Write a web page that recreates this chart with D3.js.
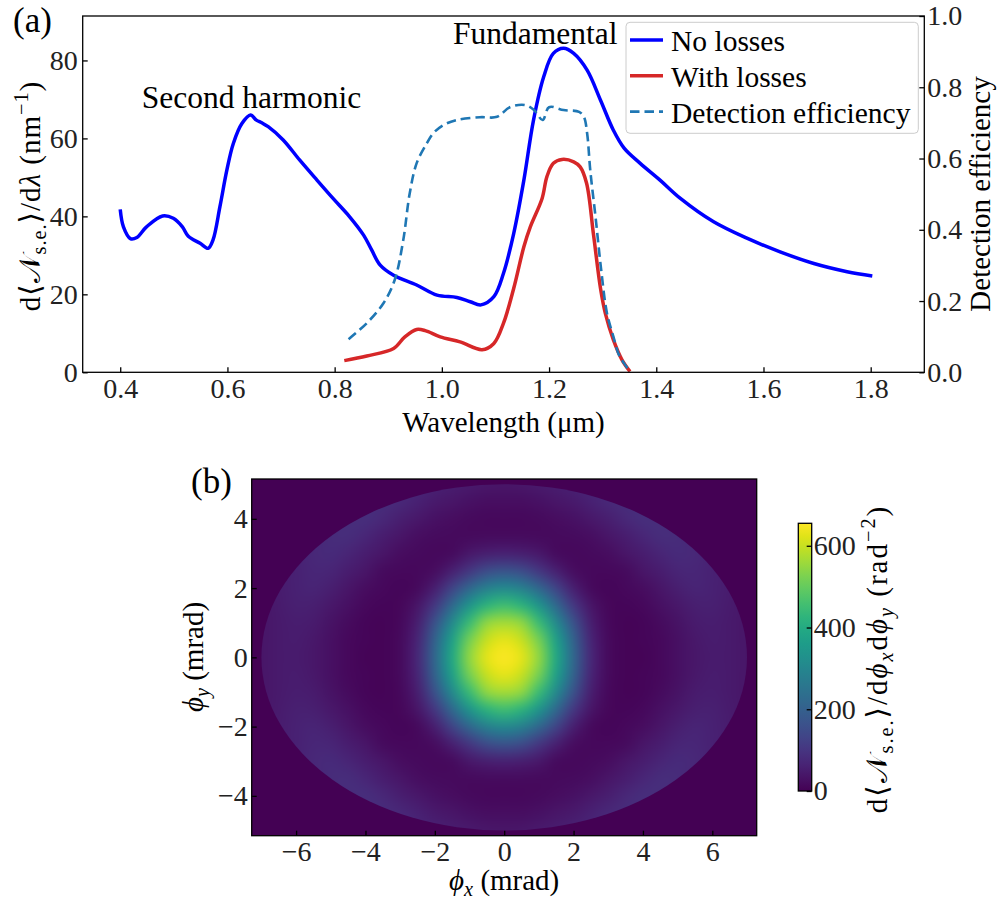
<!DOCTYPE html>
<html><head><meta charset="utf-8">
<script src="https://cdn.jsdelivr.net/npm/d3@7"></script>
<style>
body{margin:0;background:#fff;}
svg text{font-family:"Liberation Serif","Times New Roman","DejaVu Serif",serif;}
</style></head><body>
<svg id="chart" width="1000" height="909"></svg>
<script>
// ---------------- Panel (a) data ----------------
const wavelengthNoLosses = [0.400,0.406,0.419,0.431,0.449,0.479,0.499,0.516,0.527,0.549,0.564,0.573,0.586,0.599,0.611,0.627,0.643,0.654,0.664,0.676,0.704,0.735,0.767,0.797,0.828,0.854,0.869,0.885,0.910,0.953,0.991,1.028,1.053,1.073,1.097,1.115,1.134,1.153,1.171,1.190,1.208,1.227,1.246,1.271,1.296,1.320,1.340,1.370,1.407,1.445,1.507,1.569,1.631,1.694,1.756,1.803];
const noLosses = [41.8,37.3,34.3,34.6,37.3,40.1,39.5,37.3,34.9,33.1,31.8,33.9,42.5,51.9,58.7,63.8,66.0,64.7,64.0,63.0,59.6,54.4,49.3,44.6,39.9,35.2,31.4,27.5,24.9,22.4,19.8,19.2,18.1,17.3,19.4,25.4,35.6,49.3,64.7,75.8,81.8,83.1,81.8,77.5,69.8,62.1,57.5,53.6,49.3,44.6,38.6,34.4,30.9,27.9,25.8,24.7];

const wavelengthWithLosses = [0.818,0.860,0.910,0.931,0.953,0.969,0.997,1.034,1.075,1.097,1.115,1.134,1.153,1.165,1.187,1.196,1.208,1.224,1.246,1.258,1.270,1.283,1.296,1.305,1.320,1.336,1.351];
const withLosses = [3.0,4.2,6.1,9.1,11.0,10.7,9.1,7.8,5.8,7.4,12.6,21.5,32.2,37.3,44.6,50.2,53.6,54.6,54.0,52.7,48.5,35.2,21.5,15.1,8.3,3.2,0.2];

const wavelengthDetection = [0.826,0.860,0.891,0.912,0.928,0.940,0.953,0.972,0.984,1.003,1.028,1.071,1.103,1.127,1.155,1.172,1.188,1.200,1.227,1.256,1.265,1.271,1.277,1.287,1.297,1.308,1.320,1.330,1.340,1.350];
const detectionEfficiency = [0.093,0.138,0.194,0.259,0.371,0.502,0.587,0.643,0.671,0.694,0.708,0.716,0.717,0.744,0.750,0.736,0.708,0.744,0.736,0.731,0.717,0.671,0.565,0.432,0.290,0.166,0.100,0.050,0.025,0.004];

const xTicksA = [0.4,0.6,0.8,1.0,1.2,1.4,1.6,1.8];
const yTicksA = [0,20,40,60,80];
const yTicksRight = [0,0.2,0.4,0.6,0.8,1.0];
const legendLabels = ["No losses","With losses","Detection efficiency"];

// ---------------- Panel (b) data ----------------
// One quadrant read from the (symmetric) map: rows phi_y = 0..5, cols phi_x = 0..7 (mrad)
const quadPhiX = [0,0.5,1,1.5,2,2.5,3,3.5,4,4.5,5,5.5,6,6.5,7];
const quadPhiY = [0,0.5,1,1.5,2,2.5,3,3.5,4,4.5,5];
const heatQuadrant = [
  [652,627,547,392,217,72,17,6,7,14,26,39,48,44,36],
  [630,601,519,370,204,68,16,6,8,15,27,41,49,44,37],
  [568,546,446,310,165,56,14,7,10,19,33,47,53,46,37],
  [453,424,342,221,105,37,12,9,14,27,41,55,57,48,38],
  [308,284,215,131,55,17,10,13,23,37,54,65,60,49,39],
  [167,150,103,57,23,14,14,20,36,52,68,71,61,49,39],
  [60,55,41,19,15,16,21,36,52,69,79,72,60,48,38],
  [19,18,17,16,18,25,38,53,71,84,80,68,56,45,36],
  [15,15,17,22,30,41,56,72,85,83,73,62,51,41,33],
  [24,25,29,36,46,59,72,81,80,73,63,54,45,37,30],
  [38,40,45,52,61,69,73,72,67,61,53,45,38,32,26]
];
const apertureSemiAxes = [7.0, 5.0]; // mrad (x, y)
const colorDomain = [0, 655];
const xTicksB = [-6,-4,-2,0,2,4,6];
const yTicksB = [-4,-2,0,2,4];
const cbTicks = [0,200,400,600];

// ---------------- Drawing ----------------
const svg = d3.select("#chart");
const TICK = 28, LAB = 29, ANN = 31.5;

function rich(sel, parts, size){
  let shift = 0;
  parts.forEach(p=>{
    const s = p.s==="sub" ? size*0.22 : p.s==="sup" ? -size*0.4 : 0;
    const ts = sel.append("tspan").text(p.t);
    if (p.it) ts.attr("font-style","italic");
    if (p.s) ts.attr("font-size", size*0.7);
    if (s!==shift) ts.attr("dy", s-shift);
    shift = s;
  });
}

// ----- panel (a) -----
const A = {l:82.7, r:924.3, t:16, b:372.3};
const x = d3.scaleLinear().domain([0.33,1.9]).range([A.l,A.r]);
const y = d3.scaleLinear().domain([0,91.4]).range([A.b,A.t]);
const y2 = d3.scaleLinear().domain([0,1]).range([A.b,A.t]);

function styleAxis(g){
  g.select(".domain").remove();
  g.selectAll(".tick line").attr("stroke","#000").attr("stroke-width",1.3);
  g.selectAll(".tick text").attr("font-size",TICK).attr("fill","#222");
}
svg.append("g").attr("transform",`translate(0,${A.b})`)
  .call(d3.axisBottom(x).tickValues(xTicksA).tickFormat(d3.format(".1f")).tickSizeInner(-5).tickSizeOuter(0).tickPadding(6)).call(styleAxis);
svg.append("g").attr("transform",`translate(${A.l},0)`)
  .call(d3.axisLeft(y).tickValues(yTicksA).tickFormat(d3.format("d")).tickSizeInner(-5).tickSizeOuter(0).tickPadding(5)).call(styleAxis);
svg.append("g").attr("transform",`translate(${A.r},0)`)
  .call(d3.axisRight(y2).tickValues(yTicksRight).tickFormat(d3.format(".1f")).tickSizeInner(-5).tickSizeOuter(0).tickPadding(3)).call(styleAxis);

const lineMain = (xs, ys, yScale)=> d3.line().curve(d3.curveCatmullRom.alpha(0.5))
  .x((d,i)=>x(xs[i])).y((d,i)=>yScale(ys[i]))(ys);

svg.append("path").attr("d",lineMain(wavelengthNoLosses,noLosses,y))
  .attr("fill","none").attr("stroke","#0000ff").attr("stroke-width",3.5).attr("stroke-linejoin","round");
svg.append("path").attr("d",lineMain(wavelengthWithLosses,withLosses,y))
  .attr("fill","none").attr("stroke","#d62728").attr("stroke-width",3.5).attr("stroke-linejoin","round");
svg.append("path").attr("d",lineMain(wavelengthDetection,detectionEfficiency,y2))
  .attr("fill","none").attr("stroke","#1f77b4").attr("stroke-width",2.6).attr("stroke-dasharray","9.5,5");

svg.append("rect").attr("x",A.l).attr("y",A.t).attr("width",A.r-A.l).attr("height",A.b-A.t)
  .attr("fill","none").attr("stroke","#000").attr("stroke-width",1.3);

// annotations
svg.append("text").attr("x",141.7).attr("y",108).attr("font-size",ANN).text("Second harmonic");
svg.append("text").attr("x",453).attr("y",44).attr("font-size",ANN).text("Fundamental");

// legend
const lg = svg.append("g");
lg.append("rect").attr("x",626).attr("y",22.3).attr("width",292.3).attr("height",111)
  .attr("rx",4).attr("fill","#fff").attr("fill-opacity",0.8).attr("stroke","#cccccc").attr("stroke-width",1);
const legStyles = [{c:"#0000ff",w:3.5,d:null},{c:"#d62728",w:3.5,d:null},{c:"#1f77b4",w:2.6,d:"9.5,5"}];
legendLabels.forEach((lab,i)=>{
  const cy = 40 + i*35.8;
  const ln = lg.append("line").attr("x1",630).attr("x2",663).attr("y1",cy).attr("y2",cy)
    .attr("stroke",legStyles[i].c).attr("stroke-width",legStyles[i].w);
  if (legStyles[i].d) ln.attr("stroke-dasharray",legStyles[i].d);
  lg.append("text").attr("x",671).attr("y",cy+11).attr("font-size",LAB+0.5).text(lab);
});

// axis labels
svg.append("text").attr("x",(A.l+A.r)/2).attr("y",432).attr("text-anchor","middle").attr("font-size",LAB)
  .call(t=>rich(t,[{t:"Wavelength (μm)"}],LAB));
svg.append("text").attr("transform","translate(40,196) rotate(-90)").attr("text-anchor","middle").attr("font-size",LAB)
  .style("letter-spacing","1px")
  .call(t=>rich(t,[{t:"d⟨"},{t:"𝒩"},{t:"s.e.",s:"sub"},{t:"⟩/d"},{t:"λ",it:true},{t:" (nm"},{t:"−1",s:"sup"},{t:")"}],LAB));
svg.append("text").attr("transform","translate(990,194) rotate(-90)").attr("text-anchor","middle").attr("font-size",LAB)
  .text("Detection efficiency");
svg.append("text").attr("x",13).attr("y",32).attr("font-size",35).text("(a)");

// ----- panel (b) -----
const B = {l:251.7, r:756.7, t:479, b:835.7};
const xb = d3.scaleLinear().domain([-7.28,7.28]).range([B.l,B.r]);
const yb = d3.scaleLinear().domain([-5.15,5.15]).range([B.b,B.t]);
const color = d3.scaleSequential(d3.interpolateViridis).domain(colorDomain);

svg.append("rect").attr("x",B.l).attr("y",B.t).attr("width",B.r-B.l).attr("height",B.b-B.t).attr("fill",color(0));

// build full grid from the quadrant (mirror symmetric)
const fullX = quadPhiX.slice(1).map(v=>-v).reverse().concat(quadPhiX);
const fullY = quadPhiY.slice().reverse().concat(quadPhiY.slice(1).map(v=>-v));
const cvs = document.createElement("canvas");
cvs.width = fullX.length; cvs.height = fullY.length;
const ctx = cvs.getContext("2d");
const img = ctx.createImageData(cvs.width, cvs.height);
fullY.forEach((py,r)=>{
  const yi = quadPhiY.indexOf(Math.abs(py));
  fullX.forEach((px,c)=>{
    const xi = quadPhiX.indexOf(Math.abs(px));
    const col = d3.rgb(color(heatQuadrant[yi][xi]));
    const k = (r*cvs.width + c)*4;
    img.data[k]=col.r; img.data[k+1]=col.g; img.data[k+2]=col.b; img.data[k+3]=255;
  });
});
ctx.putImageData(img,0,0);
const big = document.createElement("canvas");
big.width = cvs.width*24; big.height = cvs.height*24;
const bctx = big.getContext("2d");
bctx.imageSmoothingEnabled = true; bctx.imageSmoothingQuality = "high";
bctx.drawImage(cvs,0,0,big.width,big.height);

const defs = svg.append("defs");
defs.append("clipPath").attr("id","aperture").append("ellipse")
  .attr("cx",xb(0)).attr("cy",yb(0))
  .attr("rx",xb(apertureSemiAxes[0])-xb(0)).attr("ry",yb(0)-yb(apertureSemiAxes[1]));
const dx = 0.25;
svg.append("image").attr("href",big.toDataURL())
  .attr("x",xb(fullX[0]-dx)).attr("y",yb(fullY[0]+dx))
  .attr("width",xb(fullX[fullX.length-1]+dx)-xb(fullX[0]-dx))
  .attr("height",yb(fullY[fullY.length-1]-dx)-yb(fullY[0]+dx))
  .attr("preserveAspectRatio","none").attr("clip-path","url(#aperture)");

svg.append("g").attr("transform",`translate(0,${B.b})`)
  .call(d3.axisBottom(xb).tickValues(xTicksB).tickFormat(d3.format("d")).tickSizeInner(-5).tickSizeOuter(0).tickPadding(5)).call(styleAxis);
svg.append("g").attr("transform",`translate(${B.l},0)`)
  .call(d3.axisLeft(yb).tickValues(yTicksB).tickFormat(d3.format("d")).tickSizeInner(-5).tickSizeOuter(0).tickPadding(4)).call(styleAxis);
svg.append("rect").attr("x",B.l).attr("y",B.t).attr("width",B.r-B.l).attr("height",B.b-B.t)
  .attr("fill","none").attr("stroke","#000").attr("stroke-width",1.3);

svg.append("text").attr("x",(B.l+B.r)/2).attr("y",890).attr("text-anchor","middle").attr("font-size",LAB)
  .call(t=>rich(t,[{t:"ϕ",it:true},{t:"x",it:true,s:"sub"},{t:" (mrad)"}],LAB));
svg.append("text").attr("transform","translate(203,657) rotate(-90)").attr("text-anchor","middle").attr("font-size",LAB)
  .call(t=>rich(t,[{t:"ϕ",it:true},{t:"y",it:true,s:"sub"},{t:" (mrad)"}],LAB));
svg.append("text").attr("x",191).attr("y",493).attr("font-size",35).text("(b)");

// colorbar
const CB = {l:798.3, r:811.7, t:523.3, b:791};
const cbScale = d3.scaleLinear().domain(colorDomain).range([CB.b,CB.t]);
const grad = defs.append("linearGradient").attr("id","cbgrad").attr("x1",0).attr("y1",1).attr("x2",0).attr("y2",0);
d3.range(0,1.0001,0.05).forEach(f=>grad.append("stop").attr("offset",f).attr("stop-color",color(colorDomain[0]+f*(colorDomain[1]-colorDomain[0]))));
svg.append("rect").attr("x",CB.l).attr("y",CB.t).attr("width",CB.r-CB.l).attr("height",CB.b-CB.t).attr("fill","url(#cbgrad)");
svg.append("g").attr("transform",`translate(${CB.r},0)`)
  .call(d3.axisRight(cbScale).tickValues(cbTicks).tickFormat(d3.format("d")).tickSizeInner(-5).tickSizeOuter(0).tickPadding(2)).call(styleAxis);
svg.append("rect").attr("x",CB.l).attr("y",CB.t).attr("width",CB.r-CB.l).attr("height",CB.b-CB.t)
  .attr("fill","none").attr("stroke","#000").attr("stroke-width",1.3);
svg.append("text").attr("transform","translate(887,659) rotate(-90)").attr("text-anchor","middle").attr("font-size",LAB)
  .style("letter-spacing","2px")
  .call(t=>rich(t,[{t:"d⟨"},{t:"𝒩"},{t:"s.e.",s:"sub"},{t:"⟩/d"},{t:"ϕ",it:true},{t:"x",it:true,s:"sub"},{t:"d"},{t:"ϕ",it:true},{t:"y",it:true,s:"sub"},{t:" (rad"},{t:"−2",s:"sup"},{t:")"}],LAB));
</script>
</body></html>
